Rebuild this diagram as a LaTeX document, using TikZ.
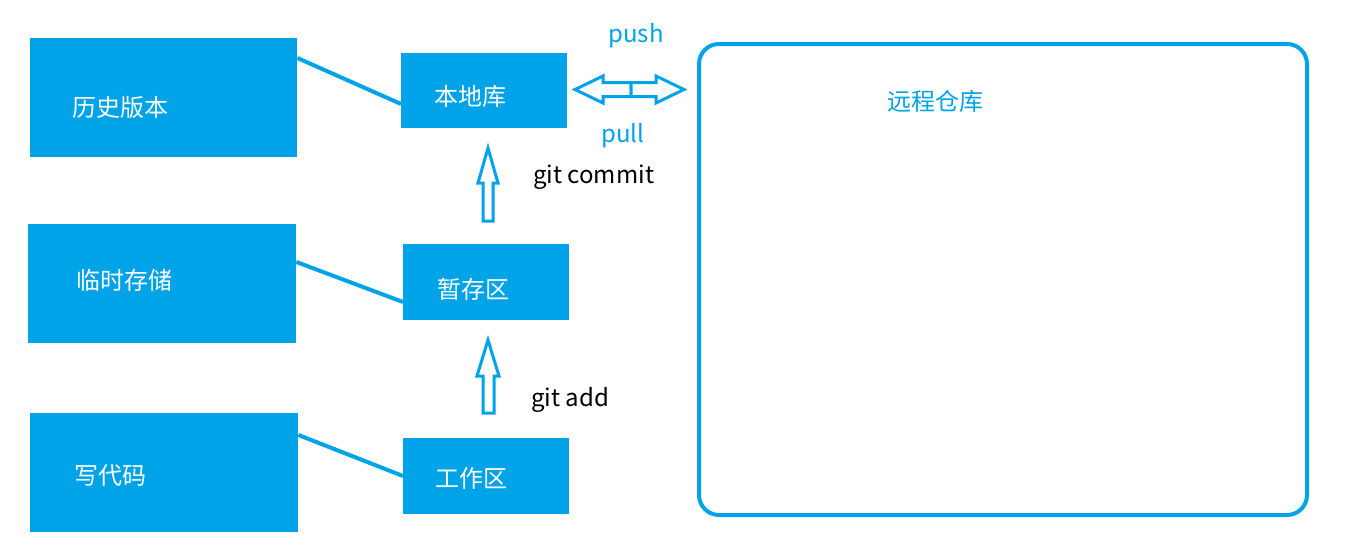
\documentclass[tikz,border=0pt]{standalone}
\usepackage{fontspec}
\setmainfont{Noto Sans CJK SC}
\begin{document}
\begin{tikzpicture}[x=1pt,y=-1pt,
  every node/.style={font=\fontsize{24}{28}\selectfont},
  box/.style={fill=gitblue,draw=none,inner sep=0pt},
  boxtext/.style={text=white,anchor=west,inner sep=0pt},
  link/.style={draw=gitblue,line width=4pt},
  hollow/.style={draw=gitblue,line width=3pt,fill=white,line join=miter},
  lbl/.style={inner sep=0pt}]
\definecolor{gitblue}{RGB}{0,162,232}
\useasboundingbox (0,0) rectangle (1360,538);
% left boxes
\node[box,minimum width=267pt,minimum height=119pt,anchor=north west] (hist) at (30,38) {};
\node[box,minimum width=268pt,minimum height=119pt,anchor=north west] (temp) at (28,224) {};
\node[box,minimum width=268pt,minimum height=119pt,anchor=north west] (code) at (30,413) {};
\node[boxtext] at (72,107) {历史版本};
\node[boxtext] at (76,280) {临时存储};
\node[boxtext] at (74,476) {写代码};
% middle boxes
\node[box,minimum width=166pt,minimum height=75pt,anchor=north west] (local) at (401,53) {};
\node[box,minimum width=166pt,minimum height=76pt,anchor=north west] (stage) at (403,244) {};
\node[box,minimum width=166pt,minimum height=76pt,anchor=north west] (work) at (403,438) {};
\node[boxtext] at (434,96) {本地库};
\node[boxtext] at (437,289) {暂存区};
\node[boxtext] at (435,478) {工作区};
% links
\draw[link] (hist.north east |- 0,58) -- (local.north west |- 0,104);
\draw[link] (temp.north east |- 0,262) -- (stage.north west |- 0,302);
\draw[link] (code.north east |- 0,435) -- (work.north west |- 0,476);
% remote
\node[draw=gitblue,line width=4pt,rounded corners=20pt,minimum width=608pt,minimum height=471pt,anchor=north west,inner sep=0pt] (remote) at (697,42) {};
\node[lbl,text=gitblue,anchor=west] at (887,101) {远程仓库};
% up arrows
\draw[hollow] (488,148) -- (498,183) -- (493,183) -- (493,221) -- (483,221) -- (483,183) -- (478,183) -- cycle;
\draw[hollow] (488,340) -- (499,376) -- (494,376) -- (494,413) -- (483,413) -- (483,376) -- (477,376) -- cycle;
% double arrow
\draw[hollow] (575,89.5) -- (603,76) -- (603,82.5) -- (631,82.5) -- (631,96.5) -- (603,96.5) -- (603,103) -- cycle;
\draw[hollow] (684,89.5) -- (656,76) -- (656,82.5) -- (631,82.5) -- (631,96.5) -- (656,96.5) -- (656,103) -- cycle;
% labels
\node[lbl,text=gitblue] at (636,36) {push};
\node[lbl,text=gitblue] at (623,136) {pull};
\node[lbl,anchor=west] at (533,177) {git commit};
\node[lbl,anchor=west] at (531,400) {git add};
\end{tikzpicture}
\end{document}
